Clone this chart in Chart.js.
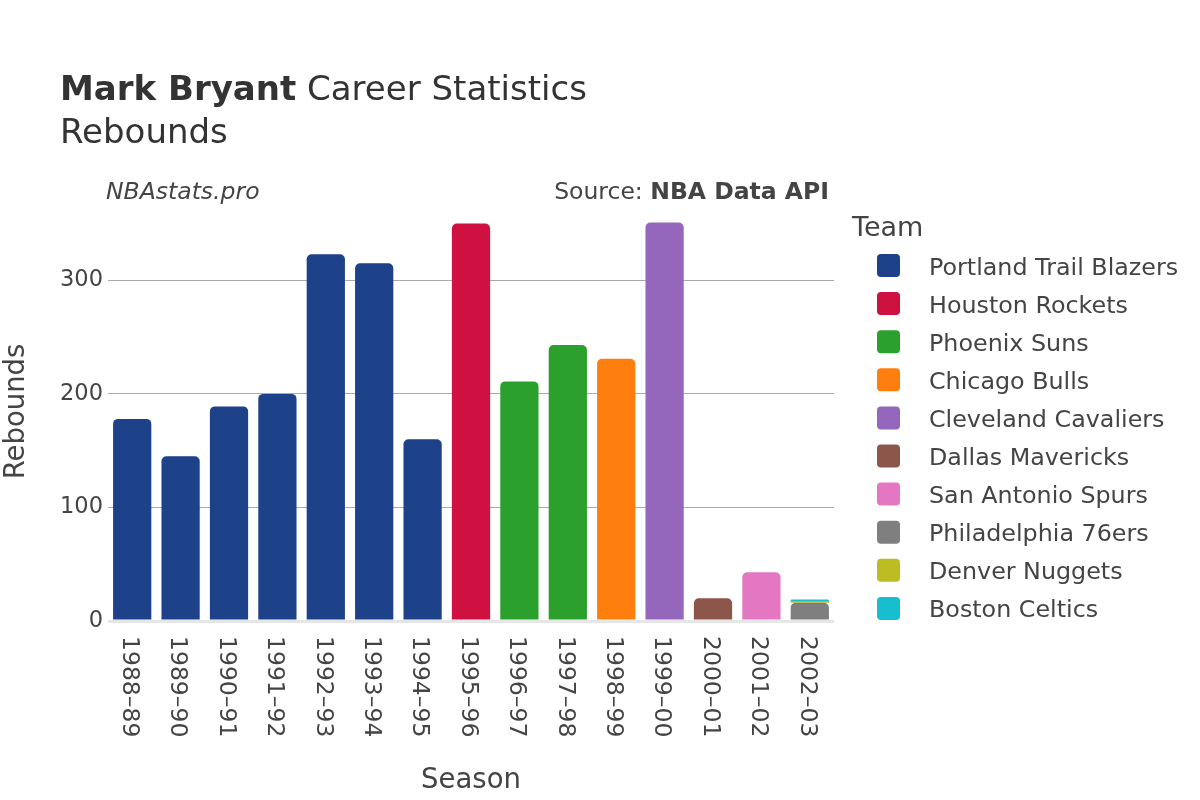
<!DOCTYPE html>
<html><head><meta charset="utf-8">
<script src="https://cdn.jsdelivr.net/npm/chart.js@4/dist/chart.umd.min.js"></script>
<style>html,body{margin:0;padding:0;background:#fff}canvas{display:block}</style>
</head><body>
<canvas id="c" width="1200" height="800"></canvas>
<script>
const seasons = ['1988–89','1989–90','1990–91','1991–92','1992–93','1993–94','1994–95','1995–96','1996–97','1997–98','1998–99','1999–00','2000–01','2001–02','2002–03'];
const teams = ['Portland Trail Blazers','Houston Rockets','Phoenix Suns','Chicago Bulls','Cleveland Cavaliers','Dallas Mavericks','San Antonio Spurs','Philadelphia 76ers','Denver Nuggets','Boston Celtics'];
const teamColors = ['#1D428A','#CE1141','#2CA02C','#FF7F0E','#9467BD','#8C564B','#E377C2','#7F7F7F','#BCBD22','#17BECF'];
const yTicks = [0,100,200,300];

const portlandReb     = [178,145,189,200,323,315,160,null,null,null,null,null,null,null,null];
const houstonReb      = [null,null,null,null,null,null,null,350,null,null,null,null,null,null,null];
const phoenixReb      = [null,null,null,null,null,null,null,null,211,243,null,null,null,null,null];
const chicagoReb      = [null,null,null,null,null,null,null,null,null,null,231,null,null,null,null];
const clevelandReb    = [null,null,null,null,null,null,null,null,null,null,null,351,null,null,null];
const dallasReb       = [null,null,null,null,null,null,null,null,null,null,null,null,20,null,null];
const sanAntonioReb   = [null,null,null,null,null,null,null,null,null,null,null,null,null,43,null];
const philadelphiaReb = [null,null,null,null,null,null,null,null,null,null,null,null,null,null,16];
const denverReb       = [null,null,null,null,null,null,null,null,null,null,null,null,null,null,1];
const bostonReb       = [null,null,null,null,null,null,null,null,null,null,null,null,null,null,2];
const teamValues = [portlandReb,houstonReb,phoenixReb,chicagoReb,clevelandReb,dallasReb,sanAntonioReb,philadelphiaReb,denverReb,bostonReb];

const FONT = "'DejaVu Sans', sans-serif";
const TXT = '#444';

const datasets = teams.map((t,i)=>({
  label: t,
  data: teamValues[i],
  backgroundColor: teamColors[i],
  borderWidth: 0,
  borderRadius: {topLeft:5, topRight:5, bottomLeft:0, bottomRight:0},
  borderSkipped: false,
  barPercentage: 0.79,
  categoryPercentage: 1.0
}));

const headerPlugin = {
  id:'header',
  afterDraw(chart){
    const ctx = chart.ctx;
    ctx.save();
    ctx.textBaseline = 'alphabetic';
    ctx.fillStyle = '#333';
    ctx.textAlign = 'left';
    ctx.font = `bold 34px ${FONT}`;
    const b = 'Mark Bryant';
    ctx.fillText(b, 60, 100);
    const w = ctx.measureText(b).width;
    ctx.font = `34px ${FONT}`;
    ctx.fillText(' Career Statistics', 60 + w, 100);
    ctx.fillText('Rebounds', 60, 143);
    ctx.fillStyle = TXT;
    ctx.font = `italic 23.5px ${FONT}`;
    ctx.fillText('NBAstats.pro', 106, 199);
    ctx.textAlign = 'right';
    ctx.font = `bold 23.5px ${FONT}`;
    const src = 'NBA Data API';
    ctx.fillText(src, 829, 199);
    const sw = ctx.measureText(src).width;
    ctx.font = `23.5px ${FONT}`;
    ctx.fillText('Source: ', 829 - sw, 199);
    ctx.restore();
  }
};

const xLabelPlugin = {
  id:'xlabels',
  afterDraw(chart){
    const ctx = chart.ctx, xs = chart.scales.x;
    ctx.save();
    ctx.fillStyle = TXT;
    ctx.font = `23.5px ${FONT}`;
    ctx.textAlign = 'left';
    ctx.textBaseline = 'middle';
    chart.data.labels.forEach((lab,i)=>{
      const x = xs.getPixelForValue(i);
      ctx.save();
      ctx.translate(x - 3, chart.chartArea.bottom + 15);
      ctx.rotate(Math.PI/2);
      ctx.fillText(lab, 0, 0);
      ctx.restore();
    });
    ctx.restore();
  }
};

const legendPlugin = {
  id:'customLegend',
  afterDraw(chart){
    const ctx = chart.ctx;
    ctx.save();
    ctx.fillStyle = TXT;
    ctx.textAlign = 'left';
    ctx.textBaseline = 'alphabetic';
    ctx.font = `27px ${FONT}`;
    ctx.fillText('Team', 852, 236);
    ctx.font = `23.8px ${FONT}`;
    chart.data.datasets.forEach((ds,i)=>{
      const cy = 265.5 + i*38.1;
      ctx.fillStyle = ds.backgroundColor;
      ctx.beginPath();
      ctx.roundRect(877, cy-11.5, 23, 23, 4);
      ctx.fill();
      ctx.fillStyle = TXT;
      ctx.fillText(ds.label, 929, cy + 9);
    });
    ctx.restore();
  }
};

new Chart(document.getElementById('c'), {
  type:'bar',
  data:{ labels: seasons, datasets },
  plugins:[headerPlugin, xLabelPlugin, legendPlugin],
  options:{
    responsive:false,
    devicePixelRatio:1,
    animation:false,
    layout:{ padding:{ top:202, right:366, left:0, bottom:0 } },
    plugins:{ legend:{display:false}, title:{display:false}, tooltip:{enabled:false} },
    scales:{
      x:{
        stacked:true,
        grid:{ display:false, drawTicks:false },
        border:{ display:false },
        ticks:{ display:false },
        title:{ display:true, text:'Season', color:TXT, font:{family:FONT, size:27.5}, padding:{top:0,bottom:3} },
        afterFit(s){ s.height = 179; }
      },
      y:{
        stacked:true,
        min:0, max:369,
        afterBuildTicks(s){ s.ticks = yTicks.map(v=>({value:v})); },
        grid:{
          drawTicks:false,
          color:(c)=> c.tick && c.tick.value === 0 ? '#e6e6e6' : '#aaaaaa',
          lineWidth:(c)=> c.tick && c.tick.value === 0 ? 3 : 1
        },
        border:{ display:false },
        ticks:{ color:TXT, font:{family:FONT, size:22.5}, padding:5 },
        title:{ display:true, text:'Rebounds', color:TXT, font:{family:FONT, size:27.5}, padding:{top:0,bottom:0} },
        afterFit(s){ s.width = 108; }
      }
    }
  }
});
</script>
</body></html>
